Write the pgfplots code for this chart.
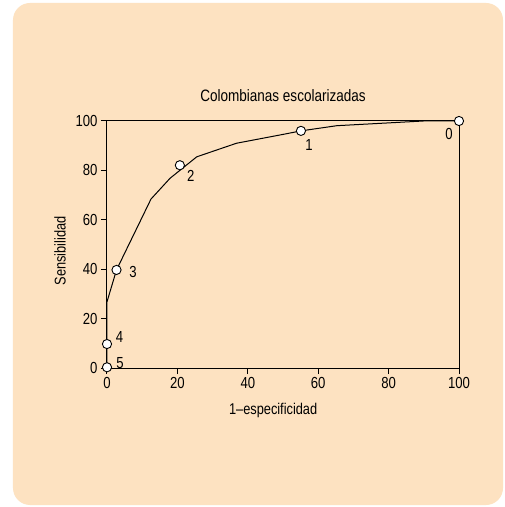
\documentclass[border=0pt]{standalone}
\usepackage{fontspec}
\setmainfont{Liberation Sans}[FakeStretch=0.82]
\usepackage{pgfplots}
\pgfplotsset{compat=1.18}
\definecolor{peach}{RGB}{253,226,193}
\begin{document}
\begin{tikzpicture}
% page and panel (1 px of the reference = 1 bp)
\fill[white] (-107bp,-139bp) rectangle (398bp,368bp);
\fill[peach, rounded corners=17bp] (-94bp,-137bp) rectangle (396bp,365bp);
\begin{axis}[
    scale only axis,
    width=352bp, height=247bp,
    xmin=0, xmax=100, ymin=0, ymax=100,
    xtick={0,20,...,100}, ytick={0,20,...,100},
    xtick pos=bottom, ytick pos=left,
    tick align=outside,
    major tick length=6bp,
    axis line style={line width=1bp},
    every tick/.style={line width=1bp, black},
    /pgf/number format/assume math mode=true,
    tick label style={font=\fontsize{16bp}{18bp}\selectfont},
    label style={font=\fontsize{15.6bp}{18bp}\selectfont},
    title style={font=\fontsize{16.5bp}{18bp}\selectfont,
        at={(axis description cs:0.5,1)}, anchor=base, yshift=14bp},
    title={Colombianas escolarizadas},
    xlabel={1–especificidad},
    ylabel={Sensibilidad},
    xlabel style={at={(axis description cs:0.472,-0.17)}, anchor=center},
    ylabel style={at={(axis description cs:-0.1335,0.474)}, anchor=center},
    clip=false,
]
\addplot[black, line width=1bp] coordinates {
    (0,0)(0,26.8)(2.7,39.7)(12.5,68.4)(17.9,76.8)(25.5,85.5)(36.8,91)
    (50.1,94.6)(55.1,96)(65.3,98.1)(89.9,100)(100,100)
};
\addplot[only marks, mark=*, mark size=4.6bp,
    mark options={fill=white, draw=black, line width=0.9bp}] coordinates {
    (100,100)(55.1,96)(20.7,82.1)(2.7,39.7)(0,9.7)(0,0.3)
};
\begin{scope}[every node/.style={inner sep=0pt, anchor=center,
        font=\fontsize{16bp}{18bp}\selectfont}]
\node at (axis cs:100,100) [xshift=-10bp, yshift=-12.6bp] {0};
\node at (axis cs:55.1,96) [xshift=8bp, yshift=-14bp] {1};
\node at (axis cs:20.7,82.1) [xshift=11bp, yshift=-11bp] {2};
\node at (axis cs:2.7,39.7) [xshift=16.6bp, yshift=-1.7bp] {3};
\node at (axis cs:0,9.7) [xshift=12.6bp, yshift=7.3bp] {4};
\node at (axis cs:0,0.3) [xshift=13bp, yshift=4bp] {5};
\end{scope}
\end{axis}
\end{tikzpicture}
\end{document}
